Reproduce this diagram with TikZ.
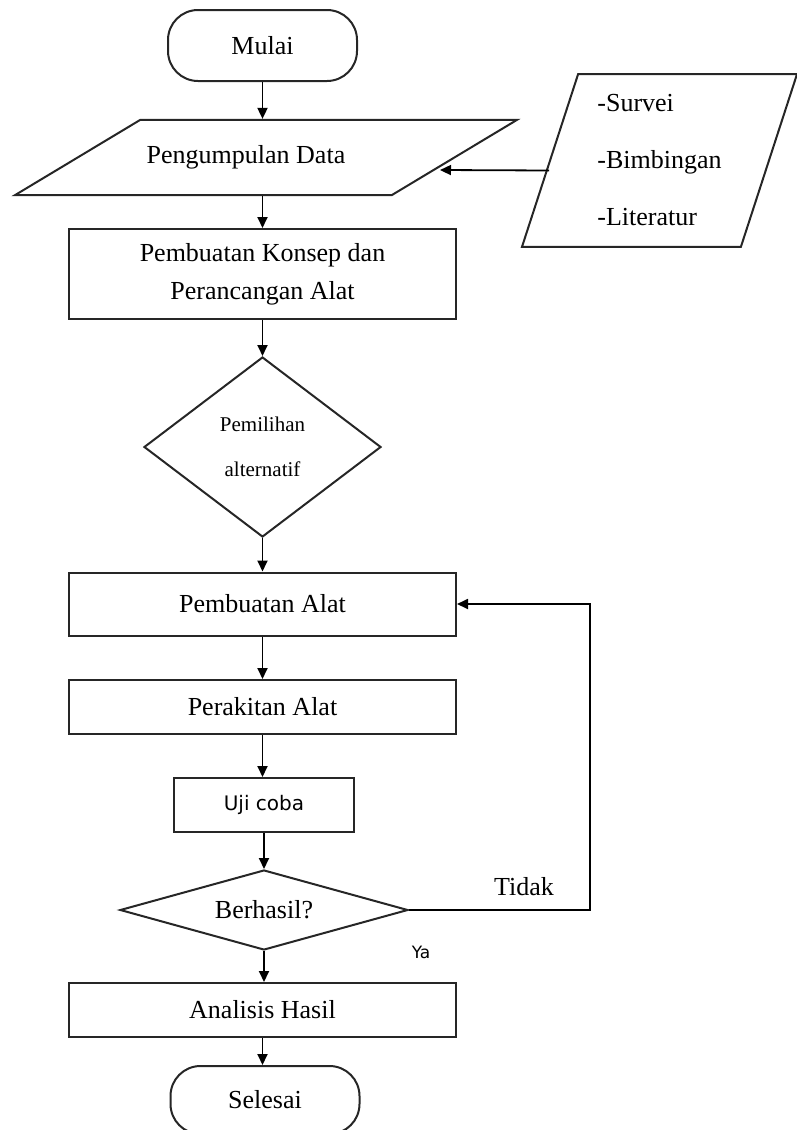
\documentclass[tikz,border=0pt]{standalone}
\usepackage{fontspec}
\setmainfont{Liberation Serif}
\newfontfamily\sansui{DejaVu Sans}
\usetikzlibrary{shapes.geometric,arrows.meta,positioning}

\tikzset{
    garis/.style={draw=black!85, line width=2pt},
    teks/.style={font=\fontsize{26}{38}\selectfont},
    terminal/.style={garis, teks, rectangle, rounded corners=30pt, minimum width=189pt, minimum height=71pt},
    proses/.style={garis, teks, rectangle, align=center, minimum width=387pt},
    keputusan/.style={garis, teks, diamond, inner sep=0pt, align=center},
    masukan/.style={garis, teks, trapezium, trapezium stretches body, inner xsep=0pt},
    panah/.style={black, line width=1.8pt, -{Triangle[length=11pt,width=10pt]}},
}

\begin{document}
\begin{tikzpicture}[x=1pt, y=-1pt]

    \useasboundingbox (0,0) rectangle (796,1130);

    \node[terminal] (mulai) at (262.5,45.5) {Mulai};
    \node[masukan, trapezium left angle=31, trapezium right angle=149,
        minimum width=502pt, inner ysep=25.8pt] (data) at (266,157.5) {Pengumpulan Data\hspace*{40pt}};
    \node[masukan, trapezium left angle=72, trapezium right angle=108,
        minimum width=275pt, inner ysep=20.6pt, align=left,
        font=\fontsize{26}{57}\selectfont] (sumber) at (659.5,160.5) {-Survei\\-Bimbingan\\-Literatur};
    \coordinate (masuk) at (440,170);

    \node[proses, minimum height=90pt] (konsep) at (262.5,274) {Pembuatan Konsep dan\\Perancangan Alat};
    \node[keputusan, aspect=1.32, minimum width=237pt, minimum height=180pt,
        font=\fontsize{21}{45}\selectfont] (pilih) at (262.5,447) {Pemilihan\\alternatif};

    \node[proses, minimum height=63pt] (buat) at (262.5,604) {Pembuatan Alat};
    \node[proses, minimum height=54pt] (rakit) at (262.5,707) {Perakitan Alat};
    \node[proses, minimum width=180pt, minimum height=54pt,
        font=\sansui\fontsize{20}{24}\selectfont] (uji) at (264,805) {Uji coba};
    \node[keputusan, aspect=3.6, minimum width=288pt, minimum height=80pt] (cek) at (264,910) {Berhasil?};
    \coordinate (balik) at (590,910);

    \node[proses, minimum height=54pt] (analisis) at (262.5,1010) {Analisis Hasil};
    \node[terminal, minimum height=68pt] (selesai) at (265,1100) {Selesai};

    \node[teks] (tidak) at (524,887) {Tidak};
    \node[font=\sansui\fontsize{17}{20}\selectfont] (ya) at (421,952) {Ya};

    \draw[panah] (mulai) -- (mulai |- data.north);
    \draw[panah] (konsep.north |- data.south) -- (konsep);
    \draw[panah] ([yshift=-10pt]sumber.west) -- (masuk);
    \draw[panah] (konsep) -- (pilih);
    \draw[panah] (pilih) -- (buat);
    \draw[panah] (buat) -- (rakit);
    \draw[panah] (rakit) -- (rakit |- uji.north);
    \draw[panah] (uji) -- (uji |- cek.north);
    \draw[panah] (cek) -- (cek |- analisis.north);
    \draw[panah] (analisis) -- (analisis |- selesai.north);
    \draw[panah] (cek.east) -- (balik) |- (buat.east);

\end{tikzpicture}
\end{document}
